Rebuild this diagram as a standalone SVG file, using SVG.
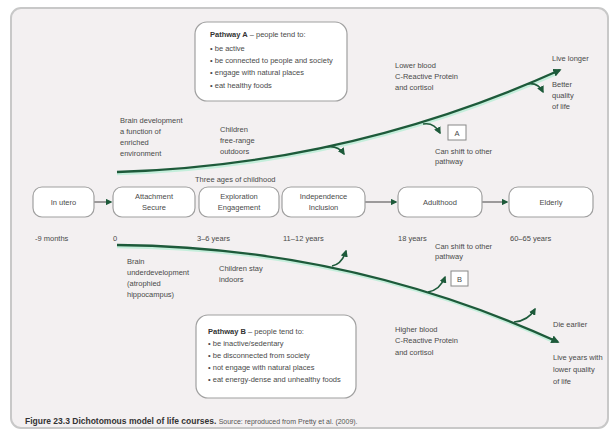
<svg xmlns="http://www.w3.org/2000/svg" width="614" height="433" viewBox="0 0 614 433">
<defs>
<marker id="ah" viewBox="0 0 10 10" refX="8" refY="5" markerWidth="3.6" markerHeight="3.6" orient="auto" markerUnits="strokeWidth">
<path d="M0,0 L10,5 L0,10 z" fill="#1d5a3a"/>
</marker>
<marker id="ahs" viewBox="0 0 10 10" refX="8" refY="5" markerWidth="4.5" markerHeight="4.5" orient="auto" markerUnits="strokeWidth">
<path d="M0,0 L10,5 L0,10 z" fill="#1d5a3a"/>
</marker>
<marker id="ahf" viewBox="0 0 10 10" refX="8" refY="5" markerWidth="6" markerHeight="6" orient="auto" markerUnits="strokeWidth">
<path d="M0,0 L10,5 L0,10 z" fill="#1d5a3a"/>
</marker>
</defs>
<style>
text{font-family:"Liberation Sans",Arial,sans-serif;font-size:7.5px;fill:#4a4a4a}
.b{font-weight:bold;fill:#333}
.c{text-anchor:middle}
.node rect{fill:#ffffff;stroke:#a0a0a0;stroke-width:1.2}
.main{fill:none;stroke:#1d5a3a;stroke-width:2.3}
.glow{fill:none;stroke:#c4eedb;stroke-width:2.5}
.br{fill:none;stroke:#1d5a3a;stroke-width:1.6}
.flow{fill:none;stroke:#555;stroke-width:1.1}
.box{fill:#ffffff;stroke:#a0a0a0;stroke-width:1.2}
</style>
<rect x="0" y="0" width="614" height="433" fill="#ffffff"/>
<rect x="11" y="8" width="597" height="420" rx="10" fill="#f3f0f1" stroke="#c8c8c8" stroke-width="2"/>

<g id="pathwayA">
<rect class="box" x="195" y="22" width="152" height="79" rx="12"/>
<text x="210" y="37"><tspan class="b">Pathway A</tspan> – people tend to:</text>
<text x="210" y="51">• be active</text>
<text x="210" y="63">• be connected to people and society</text>
<text x="210" y="75">• engage with natural places</text>
<text x="210" y="88">• eat healthy foods</text>
</g>

<g id="pathwayB">
<rect class="box" x="196" y="315" width="160" height="83" rx="12"/>
<text x="208" y="334"><tspan class="b">Pathway B</tspan> – people tend to:</text>
<text x="208" y="346">• be inactive/sedentary</text>
<text x="208" y="358">• be disconnected from society</text>
<text x="208" y="370">• not engage with natural places</text>
<text x="208" y="382">• eat energy-dense and unhealthy foods</text>
</g>

<g id="connectors">
<path class="glow" transform="translate(0,2)" d="M117,172 C250,168 400,142 556,72"/>
<path class="glow" transform="translate(0,2)" d="M117,245 C250,246 400,270 554,340"/>
<path class="main" marker-end="url(#ah)" d="M117,172 C250,168 400,142 560,70"/>
<path class="main" marker-end="url(#ah)" d="M117,245 C250,246 400,270 558,342"/>
<path class="br" marker-end="url(#ahs)" d="M326,147 Q338,145 344,154"/>
<path class="br" marker-end="url(#ahs)" d="M423,124 Q434,122 440,133"/>
<path class="br" marker-end="url(#ahs)" d="M527,84 Q538,82 543,92"/>
<path class="br" marker-end="url(#ahs)" d="M332,266 Q342,264 346,251"/>
<path class="br" marker-end="url(#ahs)" d="M428,292 Q440,290 445,277"/>
<path class="br" marker-end="url(#ahs)" d="M514,322 Q528,321 535,309"/>
<path class="flow" marker-end="url(#ahf)" d="M94,202 L111,202"/>
<path class="flow" marker-end="url(#ahf)" d="M365,202 L396,202"/>
<path class="flow" marker-end="url(#ahf)" d="M482,202 L507,202"/>
</g>

<g id="n-utero" class="node">
<rect x="33" y="187" width="61" height="30" rx="9"/>
<text class="c" x="63.5" y="205">In utero</text>
</g>
<g id="n-attachment" class="node">
<rect x="113" y="187" width="82" height="30" rx="9"/>
<text class="c" x="154" y="199">Attachment</text>
<text class="c" x="154" y="210">Secure</text>
</g>
<g id="n-exploration" class="node">
<rect x="199" y="187" width="80" height="30" rx="9"/>
<text class="c" x="239" y="199">Exploration</text>
<text class="c" x="239" y="210">Engagement</text>
</g>
<g id="n-independence" class="node">
<rect x="282" y="187" width="83" height="30" rx="9"/>
<text class="c" x="323.5" y="199">Independence</text>
<text class="c" x="323.5" y="210">Inclusion</text>
</g>
<g id="n-adulthood" class="node">
<rect x="398" y="187" width="84" height="30" rx="9"/>
<text class="c" x="440" y="205">Adulthood</text>
</g>
<g id="n-elderly" class="node">
<rect x="509" y="187" width="84" height="30" rx="9"/>
<text class="c" x="551" y="205">Elderly</text>
</g>

<g id="labels">
<text x="195" y="182">Three ages of childhood</text>
<text x="35" y="241">-9 months</text>
<text x="113" y="241">0</text>
<text x="197" y="241">3–6 years</text>
<text x="283" y="241">11–12 years</text>
<text x="398" y="241">18 years</text>
<text x="510" y="241">60–65 years</text>

<text x="120" y="123">Brain development</text>
<text x="120" y="134">a function of</text>
<text x="120" y="145">enriched</text>
<text x="120" y="156">environment</text>
<text x="220" y="132">Children</text>
<text x="220" y="143">free-range</text>
<text x="220" y="154">outdoors</text>

<text x="395" y="68">Lower blood</text>
<text x="395" y="79">C-Reactive Protein</text>
<text x="395" y="90">and cortisol</text>
<text x="552" y="61">Live longer</text>
<text x="552" y="87">Better</text>
<text x="552" y="98">quality</text>
<text x="552" y="109">of life</text>

<g id="boxA"><rect x="448" y="125" width="18" height="15" fill="#ffffff" stroke="#888" stroke-width="1"/>
<text class="c" x="457" y="135.5">A</text></g>
<text x="435" y="154">Can shift to other</text>
<text x="435" y="164">pathway</text>

<text x="435" y="249">Can shift to other</text>
<text x="435" y="259">pathway</text>
<g id="boxB"><rect x="451" y="271" width="17" height="15" fill="#ffffff" stroke="#888" stroke-width="1"/>
<text class="c" x="459.5" y="281.5">B</text></g>

<text x="127" y="264">Brain</text>
<text x="127" y="275">underdevelopment</text>
<text x="127" y="286">(atrophied</text>
<text x="127" y="297">hippocampus)</text>
<text x="219" y="271">Children stay</text>
<text x="219" y="282">indoors</text>

<text x="395" y="332">Higher blood</text>
<text x="395" y="343">C-Reactive Protein</text>
<text x="395" y="355">and cortisol</text>
<text x="553" y="327">Die earlier</text>
<text x="553" y="360">Live years with</text>
<text x="553" y="372">lower quality</text>
<text x="553" y="384">of life</text>

<text x="25" y="424" style="font-size:8.5px" class="b">Figure 23.3 Dichotomous model of life courses. <tspan style="font-weight:normal;font-size:7px;fill:#555">Source: reproduced from Pretty et al. (2009).</tspan></text>
</g>
</svg>
